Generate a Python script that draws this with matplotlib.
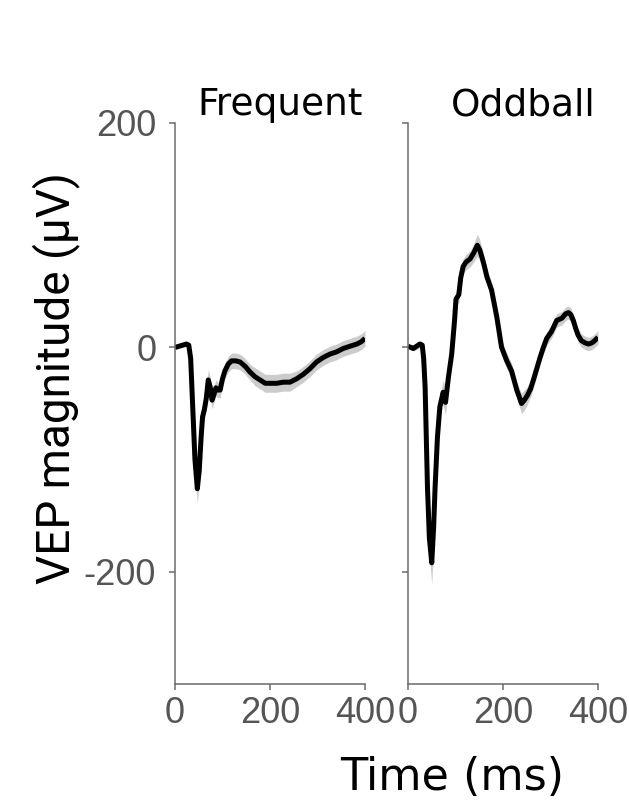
import matplotlib
matplotlib.use("Agg")
import matplotlib.pyplot as plt
import numpy as np

plt.rcParams["axes.unicode_minus"] = False

# ---- data ----
t_freq = [0, 8, 16, 24, 29, 33, 38, 42, 47, 51,
          55, 58, 62, 66, 70, 74, 78, 82, 86, 90,
          95, 100, 105, 112, 119, 128, 137, 148, 158, 168,
          179, 190, 200, 214, 228, 242, 256, 270, 284, 298,
          312, 326, 340, 354, 368, 383, 392, 400]
v_freq = [0, 1, 2, 3, 2, -10, -60, -100, -126, -110,
          -80, -62, -55, -45, -29, -35, -47, -42, -36, -38,
          -38, -28, -21, -15, -12, -12, -13, -17, -22, -26,
          -29, -32, -32, -32, -31, -31, -28, -24, -19, -13,
          -9, -6, -4, -1, 1, 3, 5, 8]
sem_freq = [2, 2, 2, 2, 3, 5, 8, 10, 13, 11,
            9, 9, 9, 11, 9, 9, 8, 7, 7, 7,
            7, 7, 7, 7, 7, 7, 7, 7, 7, 8,
            8, 8, 8, 8, 8, 8, 7, 7, 7, 7,
            7, 7, 7, 7, 7, 7, 7, 7]

t_odd = [0, 6, 11, 18, 25, 30, 33, 36, 41, 45,
         50, 54, 57, 62, 67, 74, 79, 85, 92, 98,
         101, 107, 111, 116, 122, 131, 138, 146, 151, 156,
         161, 166, 176, 187, 197, 208, 218, 229, 239, 245,
         251, 258, 264, 271, 278, 285, 292, 302, 313, 324,
         332, 338, 343, 348, 353, 358, 365, 373, 380, 387,
         393, 400]
v_odd = [1, 0, -1, 1, 3, 2, -10, -35, -125, -170,
         -192, -160, -125, -80, -53, -40, -49, -27, -6, 24,
         43, 47, 62, 72, 76, 79, 84, 91, 87, 80,
         72, 63, 51, 27, 0, -12, -21, -38, -50, -47,
         -43, -37, -29, -19, -9, 0, 8, 14, 24, 26,
         30, 31, 29, 24, 17, 11, 6, 4, 3, 4,
         6, 9]
sem_odd = [2, 2, 2, 3, 3, 3, 6, 10, 13, 16,
           19, 16, 13, 11, 9, 11, 11, 9, 8, 8,
           7, 7, 7, 7, 7, 7, 8, 10, 9, 8,
           7, 7, 7, 7, 7, 7, 7, 7, 9, 9,
           8, 7, 7, 7, 6, 6, 6, 6, 6, 6,
           6, 6, 6, 6, 6, 6, 6, 6, 6, 6,
           6, 6]

titles = ["Frequent", "Oddball"]
xticks = [0, 200, 400]
yticks = [-200, 0, 200]

fig = plt.figure(figsize=(6.29, 8.0), dpi=100)
W, H = 629, 800
ax_boxes = [(175, 365), (408, 598)]
top_px, bot_px = 123, 684

spine_col = "#6b6b6b"
tick_col = "#555555"

series = [(t_freq, v_freq, sem_freq), (t_odd, v_odd, sem_odd)]
for i, ((x0, x1), (t, v, s), title) in enumerate(zip(ax_boxes, series, titles)):
    ax = fig.add_axes([x0 / W, 1 - bot_px / H, (x1 - x0) / W, (bot_px - top_px) / H])
    t = np.array(t); v = np.array(v); s = np.array(s)
    ax.fill_between(t, v - s, v + s, color="#cccccc", lw=0, zorder=1)
    ax.plot(t, v, color="black", lw=3.6, zorder=2, solid_joinstyle="round",
            solid_capstyle="butt")
    ax.set_xlim(0, 400)
    ax.set_ylim(-300, 200)
    ax.set_xticks(xticks)
    ax.set_yticks(yticks)
    for sp in ["top", "right"]:
        ax.spines[sp].set_visible(False)
    for sp in ["left", "bottom"]:
        ax.spines[sp].set_color(spine_col)
        ax.spines[sp].set_linewidth(1.1)
    ax.tick_params(direction="out", length=4.5, width=1.1, color=spine_col,
                   labelcolor=tick_col, labelsize=26)
    ax.tick_params(axis="x", pad=4)
    ax.tick_params(axis="y", pad=9)
    for lab in ax.get_xticklabels() + ax.get_yticklabels():
        lab.set_family("Liberation Sans")
    if i == 1:
        ax.set_yticklabels([])
    ax.set_title(title, loc="right", fontsize=27, family="DejaVu Sans", pad=5,
                 x=1 - 2.0 / (x1 - x0))

fig.text(452 / W, 1 - 790 / H, "Time (ms)", ha="center", va="baseline",
         fontsize=32, family="DejaVu Sans", color="black")
fig.text(56 / W, 1 - 378 / H, "VEP magnitude (µV)", ha="center", va="center",
         rotation=90, fontsize=33, family="Roboto", color="black")

fig.savefig("out.png", dpi=100)
